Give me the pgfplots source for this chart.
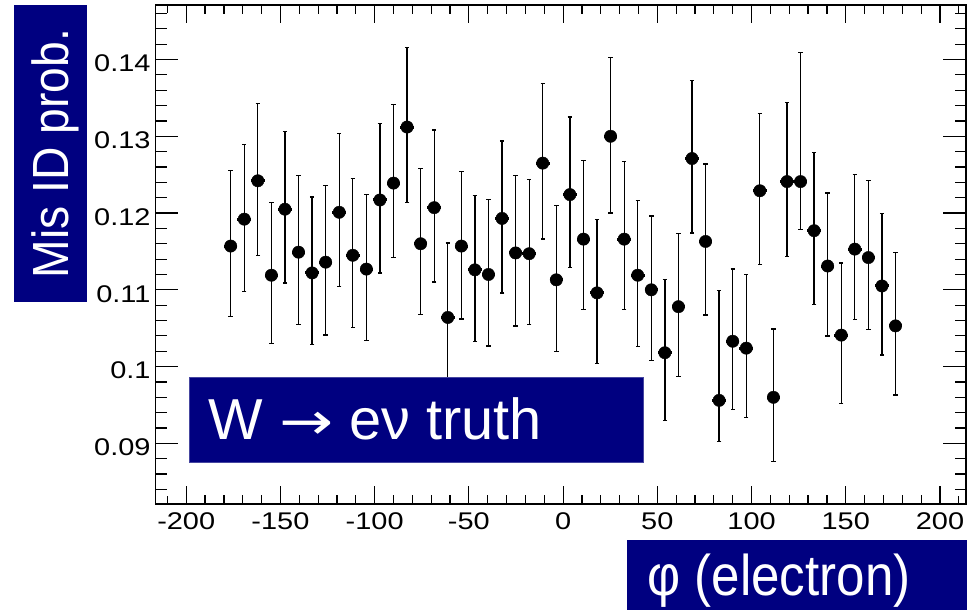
\documentclass[border=0pt]{standalone}
\usepackage{fontspec}
\usepackage{graphicx}
\setmainfont{Liberation Sans}
\newfontfamily\tickfont{Liberation Sans}[FakeStretch=1.2]
\newfontfamily\ylabfont{Liberation Sans}[FakeStretch=0.91]
\newfontfamily\xlabfont{Liberation Sans}[FakeStretch=0.89]
\newfontfamily\dejavu{DejaVu Sans}
\usepackage{pgfplots}
\usepackage{pgfplotstable}
\pgfplotsset{compat=1.18}
\definecolor{rnavy}{RGB}{0,0,128}
\definecolor{rborder}{RGB}{70,70,160}
\tikzset{tk/.style={black, line width=1.2bp}}

\pgfplotstableread{
x y ep em
-176.4 0.1157 0.0098 0.0092
-169.2 0.1192 0.0097 0.0094
-162.0 0.1242 0.0101 0.0097
-154.8 0.1119 0.0095 0.0089
-147.6 0.1205 0.0101 0.0096
-140.4 0.1149 0.0100 0.0094
-133.2 0.1122 0.0099 0.0093
-126.0 0.1136 0.0100 0.0095
-118.8 0.1201 0.0103 0.0097
-111.6 0.1145 0.0100 0.0094
-104.4 0.1127 0.0097 0.0093
-97.2 0.1217 0.0100 0.0095
-90.0 0.1239 0.0102 0.0097
-82.8 0.1312 0.0104 0.0098
-75.6 0.1160 0.0098 0.0092
-68.4 0.1207 0.0101 0.0097
-61.2 0.1064 0.0097 0.0092
-54.0 0.1157 0.0097 0.0095
-46.8 0.1126 0.0097 0.0093
-39.6 0.1120 0.0098 0.0093
-32.4 0.1193 0.0101 0.0097
-25.2 0.1148 0.0101 0.0095
-18.0 0.1147 0.0097 0.0092
-10.8 0.1265 0.0104 0.0099
-3.6 0.1113 0.0097 0.0093
3.6 0.1224 0.0101 0.0095
10.8 0.1166 0.0102 0.0092
18.0 0.1096 0.0096 0.0092
25.2 0.1300 0.0103 0.0100
32.4 0.1166 0.0101 0.0092
39.6 0.1119 0.0097 0.0093
46.8 0.1100 0.0096 0.0092
54.0 0.1018 0.0095 0.0088
61.2 0.1078 0.0095 0.0091
68.4 0.1271 0.0102 0.0097
75.6 0.1163 0.0101 0.0096
82.8 0.0956 0.0143 0.0054
90.0 0.1033 0.0094 0.0089
97.2 0.1024 0.0096 0.0090
104.4 0.1229 0.0101 0.0096
111.6 0.0960 0.0089 0.0084
118.8 0.1241 0.0103 0.0098
126.0 0.1241 0.0168 0.0062
133.2 0.1177 0.0102 0.0096
140.4 0.1131 0.0095 0.0091
147.6 0.1041 0.0094 0.0089
154.8 0.1153 0.0097 0.0092
162.0 0.1142 0.0100 0.0094
169.2 0.1105 0.0094 0.0090
176.4 0.1053 0.0096 0.0090
}\datatable

\begin{document}
\begin{tikzpicture}
\path (0,0) rectangle (970bp,610bp);
\begin{axis}[
  at={(155.5bp,106bp)}, anchor=south west,
  scale only axis, width=810.5bp, height=499bp,
  clip=false,
  xmin=-216.3, xmax=213.8,
  ymin=0.0821, ymax=0.1471,
  xtick={-200,-150,-100,-50,0,50,100,150,200},
  ytick={0.09,0.10,0.11,0.12,0.13,0.14},
  minor x tick num=4, minor y tick num=4,
  scaled y ticks=false, scaled x ticks=false,
  tick align=inside,
  major tick length=18bp, minor tick length=9bp,
  tick style={black, line width=1.2bp},
  tick label style={font=\tickfont\fontsize{24.2}{26}\selectfont},
  yticklabel style={inner sep=0pt, anchor=east, xshift=-4.8bp, yshift=-4bp},
  xticklabel style={inner sep=0pt, anchor=north, yshift=-8.7bp},
  xticklabel={\pgfmathprintnumber[assume math mode=true]{\tick}},
  yticklabel={\pgfmathprintnumber[fixed, precision=2, assume math mode=true]{\tick}},
]
\addplot[black, only marks, mark=none,
  error bars/.cd, x dir=both, x fixed=3.6, error mark=none,
  error bar style={black, line width=3bp}]
  table[x=x, y=y] {\datatable};
\addplot[black, only marks, mark=*, mark size=6.2bp,
  error bars/.cd, y dir=both, y explicit,
  error bar style={black, line width=1.3bp},
  error mark options={rotate=90, black, line width=1.3bp, mark size=2.2bp}]
  table[x=x, y=y, y error plus=ep, y error minus=em] {\datatable};
% tick marks of the frame
\pgfplotsinvokeforeach{-200,-150,-100,-50,0,50,100,150,200}{
  \draw[tk] (axis cs:#1,0.0821) -- (axis cs:#1,0.08405);
  \draw[tk] (axis cs:#1,0.1471) -- (axis cs:#1,0.14515);
}
\pgfplotsinvokeforeach{-210,-190,-180,-170,-160,-140,-130,-120,-110,-90,-80,-70,-60,-40,-30,-20,-10,10,20,30,40,60,70,80,90,110,120,130,140,160,170,180,190,210}{
  \draw[tk] (axis cs:#1,0.0821) -- (axis cs:#1,0.08308);
  \draw[tk] (axis cs:#1,0.1471) -- (axis cs:#1,0.14612);
}
\pgfplotsinvokeforeach{0.09,0.10,0.11,0.12,0.13,0.14}{
  \draw[tk] (axis cs:-216.3,#1) -- (axis cs:-204.1,#1);
  \draw[tk] (axis cs:213.8,#1) -- (axis cs:201.6,#1);
}
\pgfplotsinvokeforeach{0.084,0.086,0.088,0.092,0.094,0.096,0.098,0.102,0.104,0.106,0.108,0.112,0.114,0.116,0.118,0.122,0.124,0.126,0.128,0.132,0.134,0.136,0.138,0.142,0.144,0.146}{
  \draw[tk] (axis cs:-216.3,#1) -- (axis cs:-210.46,#1);
  \draw[tk] (axis cs:213.8,#1) -- (axis cs:207.96,#1);
}
\draw[black, line width=1.5bp] (rel axis cs:0,0) rectangle (rel axis cs:1,1);
\draw[black, line width=2.2bp] (rel axis cs:0,0) -- (rel axis cs:1,0);
\end{axis}
% y label box
\fill[rnavy] (14bp,308bp) rectangle (87bp,605bp);
\node[rotate=90, anchor=base, inner sep=0pt, text=white,
  font=\ylabfont\fontsize{51}{55}\selectfont] at (68.3bp,456.5bp) {Mis ID prob.};
% title box
\filldraw[fill=rnavy, draw=rborder, line width=0.8bp] (189bp,147.7bp) rectangle (643bp,232.3bp);
\node[anchor=base west, inner sep=0pt, text=white,
  font=\fontsize{58}{62}\selectfont] at (208.3bp,170bp) {W \scalebox{1.25}[1]{\dejavu\fontsize{52}{56}\selectfont →} eν truth};
% x label box
\fill[rnavy] (627.3bp,0bp) rectangle (967.3bp,70bp);
\node[anchor=base west, inner sep=0pt, text=white,
  font=\xlabfont\fontsize{57.6}{62}\selectfont] at (647.3bp,14.3bp) {φ (electron)};
\end{tikzpicture}
\end{document}
